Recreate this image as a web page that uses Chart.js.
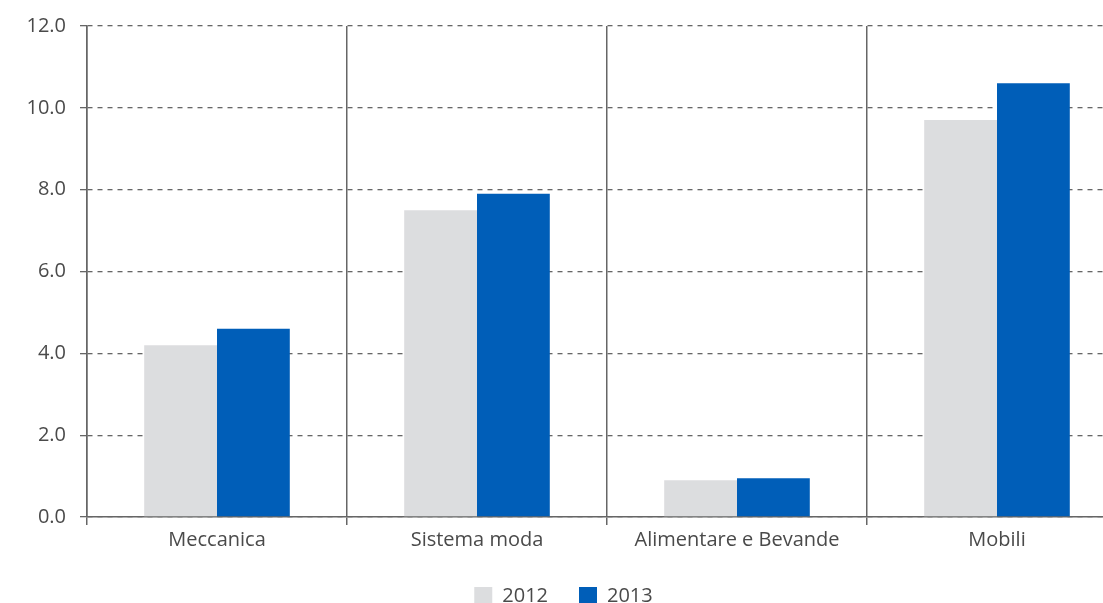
<!DOCTYPE html>
<html>
<head>
<meta charset="utf-8">
<script src="https://cdn.jsdelivr.net/npm/chart.js@4"></script>
<style>
  html, body { margin: 0; padding: 0; background: #fff; overflow: hidden; }
  #wrap { position: absolute; left: 0; top: 0; width: 1140px; height: 603px; }
</style>
</head>
<body>
<div id="wrap"><canvas id="settori" width="1140" height="603"></canvas></div>
<script>
const categories = ['Meccanica', 'Sistema moda', 'Alimentare e Bevande', 'Mobili'];
const years = ['2012', '2013'];
const values2012 = [4.2, 7.5, 0.9, 9.7];
const values2013 = [4.6, 7.9, 0.95, 10.6];
const yTicks = [0, 2, 4, 6, 8, 10, 12];

const textColor = '#4a4a4a';
const lineColor = '#666666';
const font = { family: '"Open Sans", sans-serif', size: 20 };

const ctx = document.getElementById('settori').getContext('2d');

new Chart(ctx, {
  type: 'bar',
  data: {
    labels: categories,
    datasets: [
      {
        label: years[0],
        data: values2012,
        backgroundColor: '#dcdddf',
        borderWidth: 0
      },
      {
        label: years[1],
        data: values2013,
        backgroundColor: '#005eb8',
        borderWidth: 0
      }
    ]
  },
  options: {
    responsive: false,
    animation: false,
    categoryPercentage: 0.56,
    barPercentage: 1,
    layout: { padding: { top: 26, right: 13, left: 0, bottom: -13 } },
    plugins: {
      tooltip: { enabled: false },
      legend: {
        position: 'bottom',
        labels: {
          boxWidth: 18,
          boxHeight: 18,
          padding: 31,
          color: textColor,
          font: font
        }
      }
    },
    scales: {
      x: {
        grid: {
          offset: true,
          color: lineColor,
          lineWidth: 1.5,
          tickLength: 8
        },
        border: { color: lineColor, width: 1.5 },
        ticks: { color: textColor, font: font, padding: 3 }
      },
      y: {
        min: 0,
        max: 12,
        afterFit: (scale) => { scale.width = 87; },
        afterBuildTicks: (scale) => {
          scale.ticks = yTicks.map(v => ({ value: v }));
        },
        grid: {
          color: lineColor,
          lineWidth: 1.3,
          tickLength: 7,
          tickBorderDash: []
        },
        border: { color: lineColor, width: 1.5, dash: [5, 5] },
        ticks: {
          color: textColor,
          font: font,
          padding: 14,
          callback: (v) => Number(v).toFixed(1)
        }
      }
    }
  }
});
</script>
</body>
</html>
